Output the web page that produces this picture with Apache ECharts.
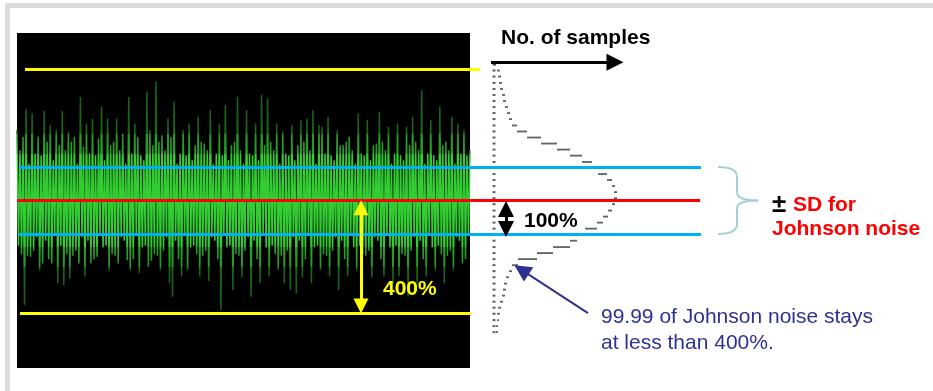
<!DOCTYPE html>
<html>
<head>
<meta charset="utf-8">
<script src="https://cdn.jsdelivr.net/npm/echarts@6.0.0/dist/echarts.min.js"></script>
<style>
  html, body { margin: 0; padding: 0; background: #fff; }
  #chart { width: 933px; height: 391px; }
</style>
</head>
<body>
<div id="chart"></div>
<script>
// noise amplitude, in % of the SD (red line = 0, blue lines = +/-SD)
const noiseTrace = [
  210, -135, 150, -160, 190, -312, 273, -165, 110, -168,
  260, -150, 140, -110, 190, -208, 135, -188, 267, -120,
  175, -175, 225, -188, 120, -105, 210, -247, 165, -135,
  267, -253, 150, -160, 205, -232, 175, -165, 190, -150,
  110, -188, 309, -110, 160, -227, 230, -120, 140, -188,
  243, -175, 135, -168, 185, -105, 280, -140, 120, -135,
  245, -208, 165, -160, 175, -165, 245, -188, 150, -110,
  200, -120, 110, -178, 309, -208, 140, -175, 230, -105,
  190, -217, 135, -140, 120, -135, 325, -198, 210, -180,
  165, -160, 355, -165, 175, -208, 195, -150, 150, -110,
  245, -247, 190, -287, 295, -120, 110, -175, 140, -227,
  210, -105, 135, -208, 230, -140, 120, -135, 165, -160,
  250, -227, 175, -165, 170, -150, 150, -240, 270, -110,
  110, -120, 140, -175, 230, -327, 135, -105, 285, -140,
  120, -135, 165, -267, 175, -160, 310, -165, 150, -230,
  110, -150, 270, -110, 140, -287, 135, -120, 230, -175,
  120, -247, 315, -105, 165, -140, 305, -227, 175, -135,
  150, -160, 230, -208, 110, -165, 205, -247, 140, -150,
  135, -267, 225, -110, 120, -277, 165, -120, 240, -230,
  175, -175, 245, -105, 150, -247, 270, -140, 110, -135,
  225, -208, 220, -160, 140, -165, 250, -227, 135, -150,
  120, -110, 210, -267, 165, -120, 165, -175, 175, -227,
  190, -105, 150, -140, 110, -208, 260, -135, 140, -160,
  135, -165, 240, -150, 120, -230, 165, -110, 170, -120,
  265, -175, 175, -227, 150, -105, 220, -140, 110, -247,
  140, -135, 230, -227, 135, -160, 120, -165, 220, -287,
  165, -150, 250, -110, 175, -247, 150, -120, 330, -175,
  110, -227, 140, -105, 240, -140, 135, -208, 120, -135,
  280, -160, 165, -247, 175, -165, 150, -150, 250, -208,
  110, -110, 230, -120, 140, -188, 210, -175, 135, -105,
  150
];

// histogram: bin centres (%) and number of samples per bin
const histBins = [
  406, 388, 370, 351, 333, 315, 297, 279, 261, 243, 224, 206, 188, 170, 152,
  134, 115, 97, 79, 61, 43, 25, 7, -11, -30, -48, -66, -84, -102, -120,
  -139, -157, -175, -193, -211, -229, -248, -266, -284, -302, -320, -338, -357, -375, -393
];
const histCounts = [
  2, 6, 7, 8, 9, 11, 12, 14, 16, 18, 23, 33, 47, 63, 76,
  88, 98, 104, 113, 118, 121, 123, 123, 121, 118, 114, 109, 103, 91, 83,
  76, 59, 43, 24, 18, 15, 13, 12, 11, 9, 7, 6, 5, 4, 4
];

const meanLevel = 0;
const sdLevel = 100;
const upperLimit = 392;
const lowerLimit = -337;

const FONT = '"Liberation Sans", Arial, sans-serif';
const chart = echarts.init(document.getElementById('chart'));

function seg(x1, y1, x2, y2, style, sym, size) {
  return [
    { coord: [x1, y1], lineStyle: style, symbol: sym ? sym[0] : 'none', symbolSize: size },
    { coord: [x2, y2], symbol: sym ? sym[1] : 'none', symbolSize: size }
  ];
}

function txt(x, y, text, font, color) {
  return {
    type: 'text', x: x, y: y, z: 100, silent: true,
    style: { text: text, font: font, fill: color, align: 'left', textAlign: 'left',
      verticalAlign: 'middle', textVerticalAlign: 'middle' }
  };
}

const yellow = { color: '#ffff00', width: 3, type: 'solid' };
const blue = { color: '#00b0f0', width: 3, type: 'solid' };
const red = { color: '#ff0000', width: 3, type: 'solid' };

const option = {
  animation: false,
  backgroundColor: '#fff',
  grid: [
    { left: 17, top: 33, width: 453, height: 335, show: true, backgroundColor: '#000', borderWidth: 0 },
    { left: 0, top: 33, width: 933, height: 335 },
    { left: 494, top: 33, width: 130, height: 335 }
  ],
  xAxis: [
    { gridIndex: 0, type: 'value', min: 0, max: noiseTrace.length - 1, show: false },
    { gridIndex: 1, type: 'value', min: 0, max: 933, show: false },
    { gridIndex: 2, type: 'value', min: 0, max: 130, show: false }
  ],
  yAxis: [0, 1, 2].map(function (i) {
    return { gridIndex: i, type: 'value', min: -500, max: 500, show: false };
  }),
  visualMap: {
    type: 'piecewise', show: false, seriesIndex: 0, dimension: 1,
    pieces: [
      { lt: -200, color: '#1b631b' },
      { gte: -200, lt: -140, color: '#289a28' },
      { gte: -140, lte: 140, color: '#33cc33' },
      { gt: 140, lte: 200, color: '#289a28' },
      { gt: 200, color: '#1b631b' }
    ]
  },
  series: [
    {
      type: 'line', xAxisIndex: 0, yAxisIndex: 0, z: 2, silent: true,
      data: noiseTrace.map(function (v, i) { return [i, v]; }),
      showSymbol: false, symbol: 'none',
      lineStyle: { width: 1.5 },
      areaStyle: { opacity: 1 }
    },
    {
      type: 'custom', xAxisIndex: 2, yAxisIndex: 2, z: 3, silent: true,
      data: histCounts.map(function (c, i) { return [c, histBins[i]]; }),
      encode: { x: 0, y: 1 },
      renderItem: function (params, api) {
        const i = params.dataIndex;
        const c = histCounts[i];
        const prev = i > 0 ? histCounts[i - 1] : c;
        const next = i < histCounts.length - 1 ? histCounts[i + 1] : c;
        let from = Math.min(prev, next);
        if (c - from < 3) from = c - 3;
        from = Math.max(from, Math.min(3, c - 2));
        const p1 = api.coord([from, histBins[i]]);
        const p2 = api.coord([c, histBins[i]]);
        return {
          type: 'line',
          shape: { x1: p1[0], y1: p1[1], x2: p2[0], y2: p2[1] },
          style: { stroke: '#5b655f', lineWidth: 1.8 }
        };
      }
    },
    {
      type: 'scatter', xAxisIndex: 2, yAxisIndex: 2, z: 3, silent: true,
      data: histBins.map(function (b) { return [0, b]; }),
      symbol: 'rect', symbolSize: [3, 2],
      itemStyle: { color: '#3a3a3a' }
    },
    {
      // brace for +/-SD
      type: 'custom', xAxisIndex: 1, yAxisIndex: 1, z: 4, silent: true,
      data: [[718, meanLevel]],
      renderItem: function (params, api) {
        const top = api.coord([718, sdLevel]);
        const bot = api.coord([718, -sdLevel]);
        const mid = api.coord([758, meanLevel]);
        const x0 = top[0], xv = x0 + 19, xt = mid[0], my = mid[1];
        const st = { stroke: '#a3cfd6', lineWidth: 2, fill: null };
        return {
          type: 'group',
          children: [
            { type: 'bezierCurve', shape: { x1: x0, y1: top[1], x2: xv, y2: top[1] + 10, cpx1: xv, cpy1: top[1] }, style: st },
            { type: 'line', shape: { x1: xv, y1: top[1] + 10, x2: xv, y2: my - 8 }, style: st },
            { type: 'bezierCurve', shape: { x1: xv, y1: my - 8, x2: xt, y2: my, cpx1: xv, cpy1: my }, style: st },
            { type: 'bezierCurve', shape: { x1: xt, y1: my, x2: xv, y2: my + 8, cpx1: xv, cpy1: my }, style: st },
            { type: 'line', shape: { x1: xv, y1: my + 8, x2: xv, y2: bot[1] - 10 }, style: st },
            { type: 'bezierCurve', shape: { x1: xv, y1: bot[1] - 10, x2: x0, y2: bot[1], cpx1: xv, cpy1: bot[1] }, style: st }
          ]
        };
      }
    },
    {
      type: 'line', xAxisIndex: 1, yAxisIndex: 1, z: 5, silent: true, clip: false,
      data: [],
      markLine: {
        silent: true, animation: false,
        symbol: ['none', 'none'],
        label: { show: false },
        emphasis: { disabled: true },
        data: [
          seg(25, upperLimit, 480, upperLimit, yellow),
          seg(20, lowerLimit, 471, lowerLimit, yellow),
          seg(19, sdLevel, 701, sdLevel, blue),
          seg(19, -sdLevel, 701, -sdLevel, blue),
          seg(17, meanLevel, 700, meanLevel, red),
          seg(361, -22, 361, -315, { color: '#ffff00', width: 3, type: 'solid' }, ['triangle', 'triangle'], 15),
          seg(506, -25, 506, -85, { color: '#000', width: 3, type: 'solid' }, ['triangle', 'triangle'], 16),
          seg(491, 413, 615, 413, { color: '#000', width: 3, type: 'solid' }, ['none', 'triangle'], 17),
          seg(588, -336, 521.5, -207, { color: '#2e3192', width: 2, type: 'solid' }, ['none', 'triangle'], 17)
        ]
      }
    }
  ],
  graphic: [
    { type: 'rect', silent: true, shape: { x: 5, y: 3, width: 928, height: 5 }, style: { fill: '#dcdcdc' } },
    { type: 'rect', silent: true, shape: { x: 5, y: 3, width: 5, height: 388 }, style: { fill: '#dcdcdc' } },
    txt(501, 38, 'No. of samples', 'bold 21px ' + FONT, '#000'),
    txt(383, 289, '400%', 'bold 21px ' + FONT, '#ffff00'),
    txt(524, 221, '100%', 'bold 21px ' + FONT, '#000'),
    {
      type: 'text', x: 772, y: 193, z: 100, silent: true,
      style: {
        text: '{pm|±}{r|SD for}\n{r|Johnson noise}',
        align: 'left', textAlign: 'left', verticalAlign: 'top', textVerticalAlign: 'top',
        rich: {
          pm: { fill: '#000', font: 'bold 26px ' + FONT, width: 21, lineHeight: 24 },
          r: { fill: '#ff0000', font: 'bold 21px ' + FONT, lineHeight: 24 }
        }
      }
    },
    txt(601, 317, '99.99 of Johnson noise stays', '21px ' + FONT, '#2e3192'),
    txt(601, 343, 'at less than 400%.', '21px ' + FONT, '#2e3192')
  ]
};

chart.setOption(option);
</script>
</body>
</html>
